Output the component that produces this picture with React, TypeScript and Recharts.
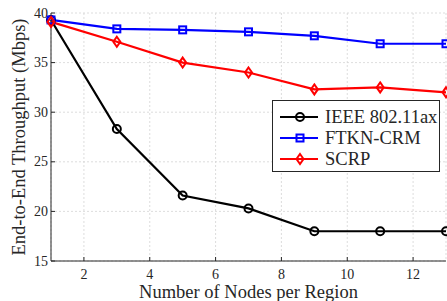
import React from "react";
import { LineChart, Line, XAxis, YAxis, CartesianGrid } from "recharts";

const nodes = [1, 3, 5, 7, 9, 11, 13];
const ieee = [39.3, 28.3, 21.6, 20.3, 18.0, 18.0, 18.0];
const ftkn = [39.3, 38.4, 38.3, 38.1, 37.7, 36.9, 36.9];
const scrp = [39.1, 37.1, 35.0, 34.0, 32.3, 32.5, 32.0];
const xTicks = [2, 4, 6, 8, 10, 12];
const yTicks = [15, 20, 25, 30, 35, 40];
const seriesNames = ["IEEE 802.11ax", "FTKN-CRM", "SCRP"];
const seriesColors = ["#000000", "#0000ff", "#ff0000"];

const data = nodes.map((n, i) => ({
  n,
  ieee: ieee[i],
  ftkn: ftkn[i],
  scrp: scrp[i],
}));

const FONT = "'Liberation Serif', 'Times New Roman', serif";
const AXIS = "#262626";

const marker = (kind: number, cx: number, cy: number, color: string, key?: any) => {
  if (kind === 0)
    return <circle key={key} cx={cx} cy={cy} r={4} fill="none" stroke={color} strokeWidth={2} />;
  if (kind === 1)
    return (
      <rect key={key} x={cx - 3.5} y={cy - 3.5} width={7} height={7} fill="none" stroke={color} strokeWidth={2} />
    );
  return (
    <path
      key={key}
      d={`M${cx},${cy - 5} L${cx + 3.5},${cy} L${cx},${cy + 5} L${cx - 3.5},${cy} Z`}
      fill="none"
      stroke={color}
      strokeWidth={2}
    />
  );
};

const dotFor = (kind: number) => (p: any) =>
  marker(kind, p.cx, p.cy, seriesColors[kind], `d${kind}-${p.index}`);

// custom ticks so the serif font is used for sure
const XTick = (p: any) => (
  <text x={p.x} y={p.y} dy="0.71em" textAnchor="middle" fontFamily={FONT} fontSize={14} fill={AXIS}>
    {p.payload.value}
  </text>
);
const YTick = (p: any) => (
  <text x={p.x} y={p.y} textAnchor="end" dominantBaseline="central" fontFamily={FONT} fontSize={14} fill={AXIS}>
    {p.payload.value}
  </text>
);

export default function App() {
  return (
    <div style={{ position: "absolute", left: 0, top: 0, width: 447, height: 301, background: "#fff" }}>
      <LineChart width={447} height={301} data={data} margin={{ top: 13, right: 1, bottom: 0, left: 0 }}>
        <CartesianGrid
          xAxisId="bottom"
          yAxisId="left"
          stroke="#d4d4d4"
          strokeDasharray="2 2"
          strokeWidth={0.8}
        />
        <XAxis
          xAxisId="bottom"
          dataKey="n"
          type="number"
          domain={[1, 13]}
          ticks={xTicks}
          height={40}
          tickSize={-4}
          tickMargin={12}
          tick={XTick}
          stroke={AXIS}
          label={() => (
            <text x={248.5} y={298} textAnchor="middle" fontFamily={FONT} fontSize={18.5} fill={AXIS}>
              Number of Nodes per Region
            </text>
          )}
        />
        <XAxis
          xAxisId="top"
          orientation="top"
          type="number"
          domain={[1, 13]}
          ticks={xTicks}
          height={0}
          tickSize={-4}
          tick={false}
          stroke={AXIS}
        />
        <YAxis
          yAxisId="left"
          type="number"
          domain={[15, 40]}
          ticks={yTicks}
          width={51}
          tickSize={-4}
          tickMargin={7}
          tick={YTick}
          stroke={AXIS}
          label={() => (
            <text
              x={19}
              y={137}
              transform="rotate(-90 19 137)"
              textAnchor="middle"
              dominantBaseline="central"
              fontFamily={FONT}
              fontSize={18.5}
              fill={AXIS}
            >
              End-to-End Throughput (Mbps)
            </text>
          )}
        />
        <YAxis
          yAxisId="right"
          orientation="right"
          type="number"
          domain={[15, 40]}
          ticks={yTicks}
          width={0}
          tickSize={-4}
          tick={false}
          stroke={AXIS}
        />
        <Line
          xAxisId="bottom"
          yAxisId="left"
          dataKey="ieee"
          name={seriesNames[0]}
          stroke={seriesColors[0]}
          strokeWidth={2.2}
          dot={dotFor(0)}
          isAnimationActive={false}
        />
        <Line
          xAxisId="bottom"
          yAxisId="left"
          dataKey="ftkn"
          name={seriesNames[1]}
          stroke={seriesColors[1]}
          strokeWidth={2.2}
          dot={dotFor(1)}
          isAnimationActive={false}
        />
        <Line
          xAxisId="bottom"
          yAxisId="left"
          dataKey="scrp"
          name={seriesNames[2]}
          stroke={seriesColors[2]}
          strokeWidth={2.2}
          dot={dotFor(2)}
          isAnimationActive={false}
        />
      </LineChart>
      <svg width={170} height={74} style={{ position: "absolute", left: 271, top: 99 }}>
        <rect x={1.5} y={1.5} width={167} height={71} fill="#fff" stroke={AXIS} strokeWidth={1} />
        {seriesNames.map((name, i) => {
          const cy = 18 + i * 21;
          return (
            <g key={name}>
              <line x1={9} x2={47} y1={cy} y2={cy} stroke={seriesColors[i]} strokeWidth={2.2} />
              {marker(i, 29, cy, seriesColors[i])}
              <text x={54} y={cy} dominantBaseline="central" fontFamily={FONT} fontSize={18.5} fill={AXIS}>
                {name}
              </text>
            </g>
          );
        })}
      </svg>
    </div>
  );
}
